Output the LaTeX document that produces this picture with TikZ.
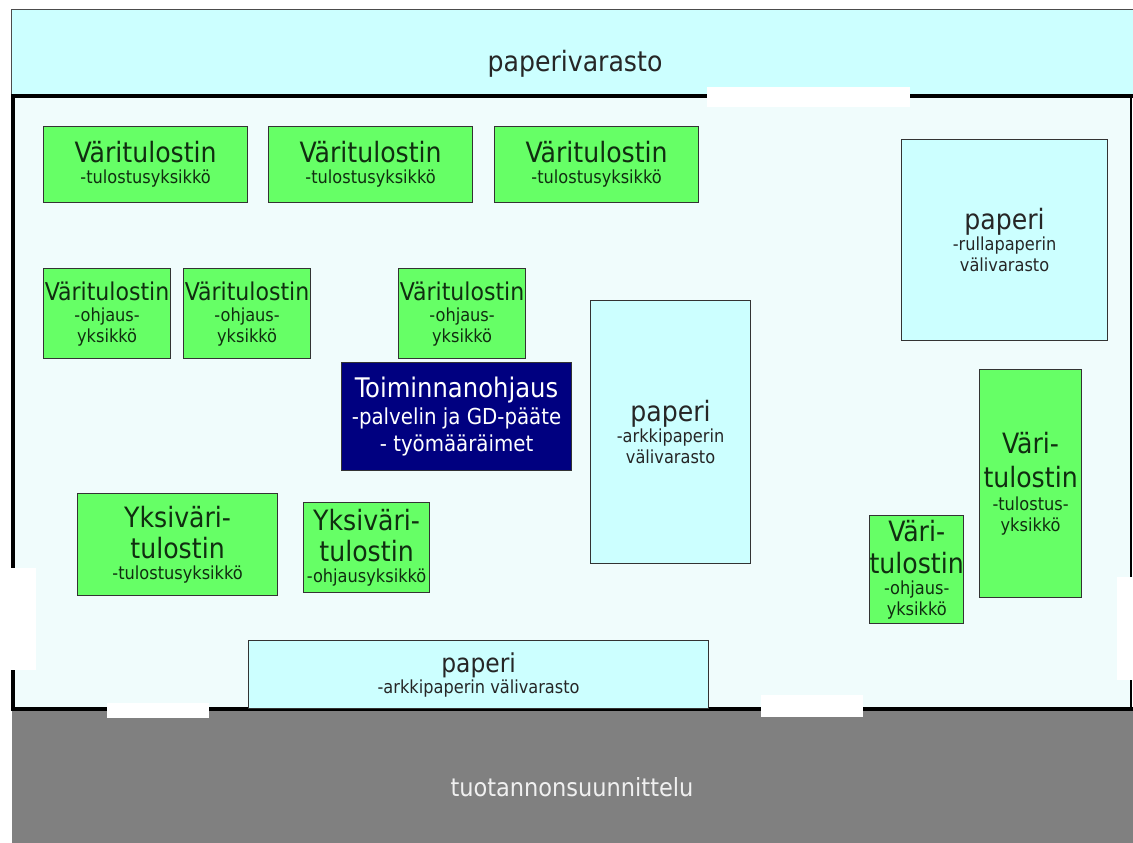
\documentclass[tikz,border=0pt]{standalone}
\usepackage{fontspec}
\setmainfont{DejaVu Sans Condensed}

\definecolor{vihrea}{HTML}{66FF66}
\definecolor{syaani}{HTML}{CCFFFF}
\definecolor{laivasto}{HTML}{000080}
\definecolor{harmaa}{HTML}{808080}
\definecolor{lattia}{HTML}{F0FCFC}
\definecolor{tummavihrea}{HTML}{102E10}

\newcommand{\otsikko}[2]{{\fontsize{#1}{#1}\selectfont #2}}

\begin{document}
\begin{tikzpicture}[x=1pt,y=-1pt,
  box/.style={draw=black!80,line width=1.2pt,anchor=north west,inner sep=0pt,align=center,font=\fontsize{18}{21}\selectfont},
  printer/.style={box,fill=vihrea,text=tummavihrea},
  paper/.style={box,fill=syaani,text=black!85},
  control/.style={box,fill=laivasto,text=white,font=\fontsize{22}{27}\selectfont},
  wall/.style={line width=4pt}]
  \useasboundingbox (0,0) rectangle (1133,843);
  %top: paper store
  \fill[syaani] (11,10) rectangle (1133,96);
  \draw[black!70,line width=1pt] (1133,10) -- (11,10) -- (11,96);
  \node[font=\fontsize{28}{30}\selectfont,text=black!85] (varasto) at (575,64) {paperivarasto};
  %floor
  \fill[lattia] (13,96) rectangle (1131,709);
  \draw[wall] (11,96) -- (1133,96);
  \draw[wall] (13,96) -- (13,709);
  \draw[wall] (11,709) -- (1133,709);
  \draw[line width=2pt] (1131,96) -- (1131,709);
  %bottom: planning
  \fill[harmaa] (12,711) rectangle (1133,843);
  \node[font=\fontsize{25}{28}\selectfont,text=white!94!black] (suunnittelu) at (572,787) {tuotannonsuunnittelu};
  %doors
  \fill[white] (707,87) rectangle (910,107);
  \fill[white] (0,568) rectangle (36,670);
  \fill[white] (1117,577) rectangle (1133,680);
  \fill[white] (107,703) rectangle (209,718);
  \fill[white] (761,695) rectangle (863,717);

  %colour printers, print units
  \node[printer,minimum width=204,minimum height=76] (vt1) at (43,126) {\otsikko{28}{Väritulostin}\\-tulostusyksikkö};
  \node[printer,minimum width=204,minimum height=76] (vt2) at (268,126) {\otsikko{28}{Väritulostin}\\-tulostusyksikkö};
  \node[printer,minimum width=204,minimum height=76] (vt3) at (494,126) {\otsikko{28}{Väritulostin}\\-tulostusyksikkö};
  %colour printers, control units
  \node[printer,minimum width=127,minimum height=90] (vo1) at (43,268) {\otsikko{24.5}{Väritulostin}\\-ohjaus-\\yksikkö};
  \node[printer,minimum width=127,minimum height=90] (vo2) at (183,268) {\otsikko{24.5}{Väritulostin}\\-ohjaus-\\yksikkö};
  \node[printer,minimum width=127,minimum height=90] (vo3) at (398,268) {\otsikko{24.5}{Väritulostin}\\-ohjaus-\\yksikkö};
  %production control
  \node[control,minimum width=230,minimum height=108] (ohjaus) at (341,362) {\otsikko{27}{Toiminnanohjaus}\\-palvelin ja GD-pääte\\- työmääräimet};
  %paper
  \node[paper,minimum width=206,minimum height=201] (rulla) at (901,139) {\otsikko{28}{paperi}\\-rullapaperin\\välivarasto};
  \node[paper,minimum width=160,minimum height=263] (arkki) at (590,300) {\otsikko{28}{paperi}\\-arkkipaperin\\välivarasto};
  \node[paper,minimum width=460,minimum height=68] (arkki2) at (248,640) {\otsikko{26}{paperi}\\-arkkipaperin välivarasto};
  %right side
  \node[printer,minimum width=102,minimum height=228] (vt4) at (979,369) {\otsikko{28}{Väri-}\\[12pt]\otsikko{28}{tulostin}\\[2pt]-tulostus-\\yksikkö};
  \node[printer,minimum width=91,minimum height=108] (vo4) at (869,515) {\otsikko{28}{Väri-}\\[9pt]\otsikko{28}{tulostin}\\-ohjaus-\\yksikkö};
  %single colour
  \node[printer,minimum width=200,minimum height=102] (yv1) at (77,493) {\otsikko{28}{Yksiväri-}\\[8pt]\otsikko{28}{tulostin}\\-tulostusyksikkö};
  \node[printer,minimum width=126,minimum height=90] (yv2) at (303,502) {\otsikko{28}{Yksiväri-}\\[8pt]\otsikko{28}{tulostin}\\-ohjausyksikkö};
\end{tikzpicture}
\end{document}
